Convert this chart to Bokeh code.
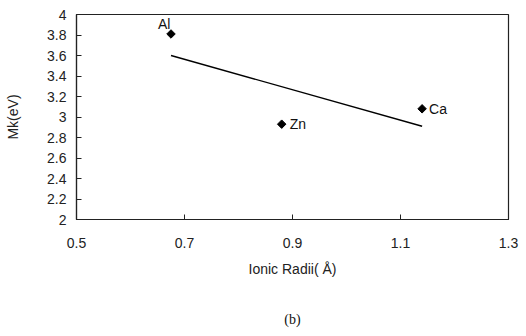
from bokeh.plotting import figure
from bokeh.models import FixedTicker, Label, ColumnDataSource, Range1d, LinearAxis
from bokeh.embed import file_html
from bokeh.resources import INLINE
import math

# data
elements = ["Al", "Zn", "Ca"]
ionic_radii = [0.675, 0.88, 1.14]
mk_ev = [3.81, 2.93, 3.08]
trend_x = [0.675, 1.14]
trend_y = [3.60, 2.91]
x_ticks = [0.5, 0.7, 0.9, 1.1, 1.3]
y_ticks = [2, 2.2, 2.4, 2.6, 2.8, 3, 3.2, 3.4, 3.6, 3.8, 4]
caption = "(b)"

FONT = "Liberation Sans"

p = figure(width=526, height=336, output_backend="svg", toolbar_location=None,
           x_range=Range1d(0.5, 1.3), y_range=Range1d(2, 4),
           min_border_left=76, min_border_right=18, min_border_top=14, min_border_bottom=117)
p.background_fill_color = "white"
p.border_fill_color = "white"
p.outline_line_color = "#222222"
p.outline_line_width = 1.2
p.grid.visible = False

for ax in (p.xaxis[0], p.yaxis[0]):
    ax.major_tick_in = 5
    ax.major_tick_out = 0
    ax.minor_tick_line_color = None
    ax.axis_line_color = "#222222"
    ax.axis_line_width = 1.2
    ax.major_tick_line_color = "#222222"
    ax.major_label_text_font = FONT
    ax.major_label_text_font_size = "14px"
    ax.major_label_text_color = "#222222"
    ax.axis_label_text_font = FONT
    ax.axis_label_text_font_size = "14px"
    ax.axis_label_text_font_style = "normal"
    ax.axis_label_text_color = "#222222"

p.xaxis.ticker = FixedTicker(ticks=x_ticks)
p.xaxis.major_label_overrides = {t: f"{t:g}" for t in x_ticks}
p.yaxis.ticker = FixedTicker(ticks=y_ticks)
p.yaxis.major_label_overrides = {t: f"{t:g}" for t in y_ticks}
p.xaxis.axis_label = "Ionic Radii( Å)"
p.yaxis.axis_label = "Mk(eV)"
p.xaxis.major_label_standoff = 18
p.yaxis.major_label_standoff = 10
p.xaxis.axis_label_standoff = 10
p.yaxis.axis_label_standoff = 23

# caption as the label of a bare axis below the x axis
cap_axis = LinearAxis(ticker=FixedTicker(ticks=[]), axis_line_color=None,
                      major_tick_line_color=None, minor_tick_line_color=None,
                      major_label_text_font_size="0px", major_label_standoff=0,
                      axis_label=caption, axis_label_standoff=32,
                      axis_label_text_font="Liberation Serif", axis_label_text_font_size="14px",
                      axis_label_text_font_style="normal", axis_label_text_color="#111111")
cap_axis.major_tick_in = 0
cap_axis.major_tick_out = 0
p.add_layout(cap_axis, "below")

p.line(trend_x, trend_y, line_color="black", line_width=1.4)
src = ColumnDataSource(dict(x=ionic_radii, y=mk_ev, name=elements))
p.scatter("x", "y", source=src, marker="square", size=6, angle=math.pi / 4, color="black")

offsets = {"Al": (-13, 2, "left", "bottom"), "Zn": (8, 0, "left", "middle"), "Ca": (7, 0, "left", "middle")}
for e, x, y in zip(elements, ionic_radii, mk_ev):
    dx, dy, ta, tb = offsets[e]
    p.add_layout(Label(x=x, y=y, x_offset=dx, y_offset=dy, text=e, text_align=ta,
                       text_baseline=tb, text_font=FONT, text_font_size="14px",
                       text_color="#111111"))

open("out.html", "w").write(file_html(p, INLINE))
